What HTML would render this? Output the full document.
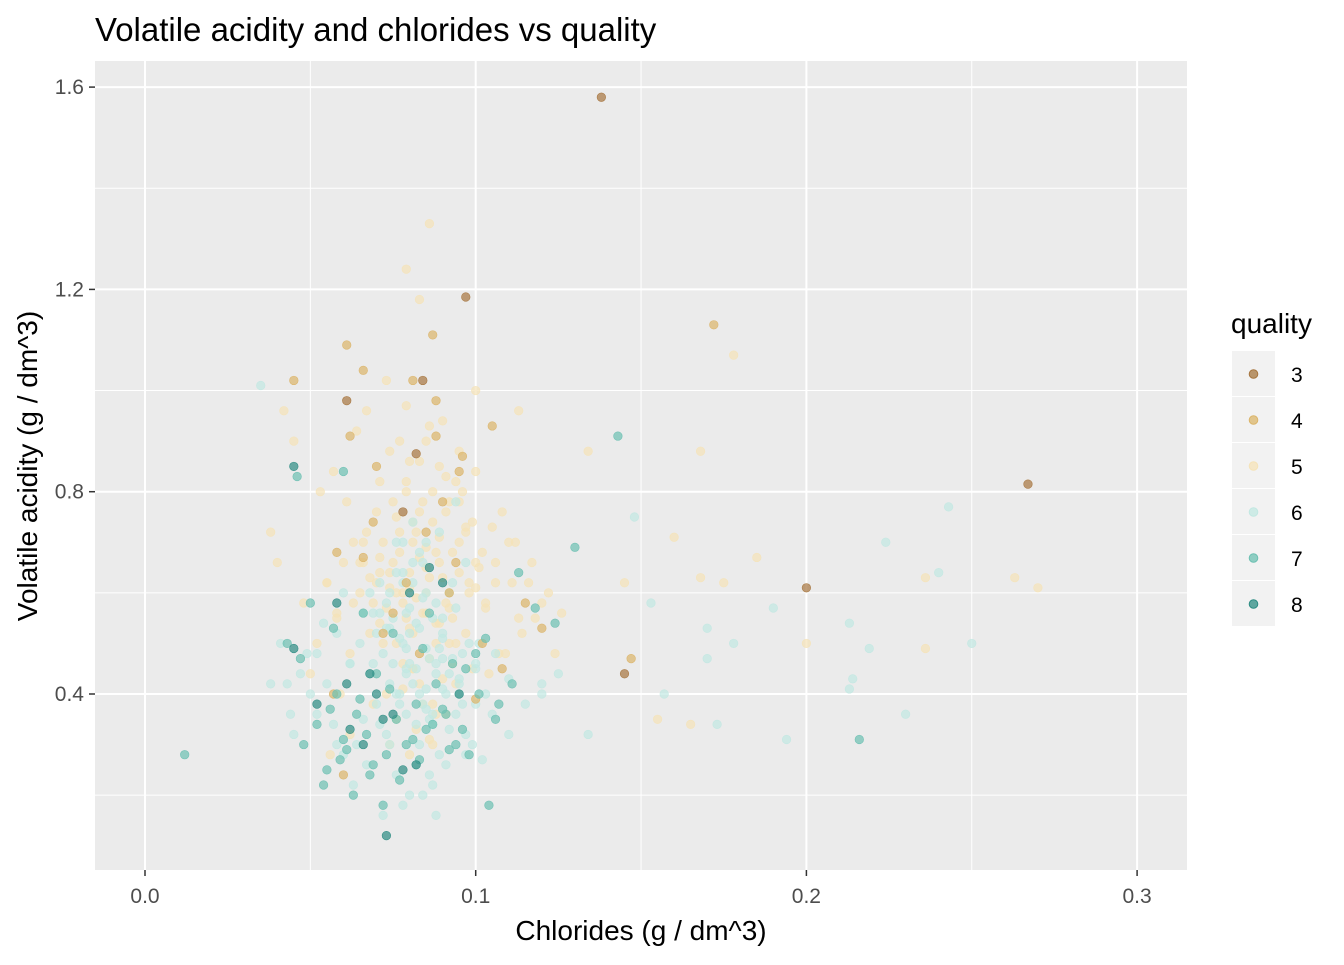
<!DOCTYPE html>
<html><head><meta charset="utf-8"><style>
body{margin:0;background:#fff;font-family:"Liberation Sans",Arial,sans-serif}
</style></head><body>
<svg id="chart" width="1344" height="960" xmlns="http://www.w3.org/2000/svg" font-family="Liberation Sans, Arial, sans-serif">
<rect width="1344" height="960" fill="#fff"/>
<text x="95" y="41" font-size="33" fill="#000">Volatile acidity and chlorides vs quality</text>
<rect x="95" y="61" width="1092" height="809" fill="#ebebeb"/>
<g id="grid"></g>
<g id="points"></g>
<g id="axes"></g>
<text x="641" y="940" font-size="28" text-anchor="middle">Chlorides (g / dm^3)</text>
<text transform="translate(37,466) rotate(-90)" font-size="28" text-anchor="middle">Volatile acidity (g / dm^3)</text>
<g id="legend">
<text x="1231" y="333" font-size="28">quality</text>
</g>
</svg>
<script>
const xTicks=[0,0.1,0.2,0.3];
const xTickLabels=["0.0","0.1","0.2","0.3"];
const yTicks=[0.4,0.8,1.2,1.6];
const yTickLabels=["0.4","0.8","1.2","1.6"];
const xMinor=[0.05,0.15,0.25];
const yMinor=[0.2,0.6,1.0,1.4];
const qualities=["3","4","5","6","7","8"];
const colors=["#a6753e","#dbb56a","#f5e3b8","#c2e8e2","#6cc0b2","#2c8c83"];
const q3x=[0.138,0.097,0.267,0.200,0.145,0.061,0.082,0.078,0.084];
const q3y=[1.58,1.185,0.815,0.61,0.44,0.98,0.875,0.76,1.02];
const q4x=[0.172,0.087,0.061,0.066,0.045,0.081,0.088,0.105,0.062,0.088,0.096,0.095,0.09,0.147,0.058,0.12,0.06,0.075,0.083,0.115,0.102,0.072,0.07,0.094,0.079,0.066,0.1,0.085,0.057,0.092,0.069,0.108];
const q4y=[1.13,1.11,1.09,1.04,1.02,1.02,0.98,0.93,0.91,0.91,0.87,0.84,0.78,0.47,0.68,0.53,0.24,0.56,0.48,0.58,0.5,0.52,0.85,0.66,0.62,0.67,0.39,0.72,0.4,0.6,0.74,0.45];
const q5x=[0.079,0.086,0.083,0.178,0.168,0.236,0.263,0.27,0.185,0.175,0.16,0.168,0.155,0.165,0.236,0.2,0.145,0.134,0.1,0.113,
0.07,0.072,0.075,0.078,0.08,0.082,0.085,0.088,0.09,0.093,0.095,0.098,0.1,0.103,0.106,0.11,0.113,0.116,0.12,0.068,
0.065,0.062,0.058,0.055,0.052,0.05,0.048,0.076,0.079,0.081,0.084,0.087,0.091,0.094,0.097,0.071,0.074,0.077,0.083,0.086,
0.089,0.092,0.096,0.099,0.102,0.105,0.108,0.112,0.117,0.122,0.126,0.064,0.067,0.073,0.079,0.085,0.09,0.095,0.1,0.081,
0.078,0.083,0.088,0.073,0.069,0.093,0.097,0.076,0.082,0.087,0.074,0.08,0.086,0.091,0.062,0.059,0.056,0.104,0.109,0.114,
0.045,0.042,0.04,0.038,0.053,0.057,0.061,0.066,0.071,0.076,0.081,0.084,0.089,0.094,0.071,0.078,0.085,0.092,0.1,0.107,
0.074,0.077,0.08,0.083,0.086,0.089,0.092,0.095,0.098,0.071,0.068,0.065,0.077,0.081,0.085,0.089,0.093,0.097,0.101,0.106,
0.073,0.076,0.079,0.082,0.085,0.088,0.091,0.075,0.079,0.083,0.087,0.091,0.095,0.07,0.067,0.063,0.06,0.072,0.081,0.09,
0.078,0.084,0.088,0.094,0.099,0.103,0.111,0.118,0.124,0.069,0.074,0.08,0.086,0.092,0.058,0.055,0.063,0.066,0.08,0.087];
const q5y=[1.24,1.33,1.18,1.07,0.88,0.63,0.63,0.61,0.67,0.62,0.71,0.63,0.35,0.34,0.49,0.5,0.62,0.88,1.0,0.96,
0.62,0.7,0.66,0.58,0.64,0.72,0.6,0.68,0.63,0.55,0.7,0.6,0.66,0.57,0.62,0.7,0.55,0.62,0.58,0.52,
0.6,0.48,0.56,0.62,0.5,0.44,0.58,0.75,0.8,0.7,0.78,0.74,0.76,0.82,0.72,0.82,0.88,0.9,0.86,0.93,
0.85,0.78,0.8,0.74,0.68,0.73,0.76,0.7,0.66,0.6,0.56,0.92,0.96,1.02,0.97,0.9,0.94,0.88,0.84,0.52,
0.46,0.42,0.5,0.4,0.38,0.46,0.52,0.35,0.33,0.38,0.3,0.28,0.31,0.36,0.32,0.4,0.28,0.44,0.48,0.52,
0.9,0.96,0.66,0.72,0.8,0.84,0.78,0.7,0.54,0.5,0.45,0.56,0.54,0.5,0.64,0.6,0.65,0.57,0.61,0.48,
0.64,0.68,0.61,0.67,0.63,0.66,0.6,0.64,0.62,0.67,0.63,0.66,0.72,0.74,0.69,0.71,0.68,0.73,0.65,0.66,
0.57,0.6,0.55,0.59,0.56,0.54,0.58,0.78,0.82,0.76,0.8,0.83,0.78,0.76,0.72,0.7,0.66,0.5,0.45,0.43,
0.41,0.38,0.36,0.42,0.45,0.58,0.62,0.55,0.48,0.58,0.61,0.53,0.47,0.5,0.55,0.62,0.58,0.66,0.86,0.3];
const q6x=[0.243,0.224,0.24,0.25,0.23,0.213,0.214,0.213,0.219,0.19,0.194,0.17,0.17,0.173,0.178,0.153,0.157,0.148,0.134,0.035,
0.07,0.072,0.075,0.078,0.08,0.082,0.085,0.088,0.09,0.093,0.095,0.098,0.1,0.103,0.106,0.11,0.115,0.12,0.068,0.065,
0.062,0.058,0.055,0.052,0.05,0.047,0.044,0.041,0.038,0.076,0.079,0.081,0.084,0.087,0.091,0.094,0.097,0.071,0.074,0.077,
0.083,0.086,0.089,0.092,0.096,0.099,0.102,0.073,0.079,0.085,0.09,0.081,0.078,0.083,0.088,0.074,0.069,0.093,0.097,0.076,
0.082,0.087,0.08,0.086,0.091,0.064,0.06,0.057,0.105,0.11,0.12,0.125,0.066,0.071,0.076,0.081,0.084,0.089,0.094,0.06,
0.054,0.049,0.043,0.069,0.074,0.079,0.085,0.09,0.095,0.1,0.072,0.078,0.084,0.088,0.067,0.063,0.058,0.045,0.052,0.097,
0.073,0.077,0.08,0.083,0.087,0.09,0.094,0.075,0.079,0.082,0.086,0.089,0.071,0.068,0.078,0.084,0.092,0.076,0.081,0.085,
0.074,0.079,0.083,0.088,0.07,0.066,0.092,0.096,0.101,0.08,0.077,0.085,0.09,0.073,0.082,0.087,0.095,0.1,0.078,0.062];
const q6y=[0.77,0.7,0.64,0.5,0.36,0.54,0.43,0.41,0.49,0.57,0.31,0.53,0.47,0.34,0.5,0.58,0.4,0.75,0.32,1.01,
0.52,0.48,0.55,0.5,0.46,0.54,0.49,0.44,0.52,0.47,0.42,0.5,0.45,0.4,0.48,0.43,0.38,0.42,0.44,0.5,
0.46,0.52,0.42,0.48,0.4,0.44,0.36,0.5,0.42,0.4,0.36,0.42,0.38,0.34,0.4,0.36,0.32,0.34,0.3,0.38,
0.3,0.35,0.28,0.33,0.38,0.3,0.27,0.58,0.56,0.6,0.55,0.62,0.64,0.68,0.58,0.6,0.56,0.62,0.66,0.24,
0.26,0.22,0.2,0.24,0.26,0.3,0.28,0.34,0.36,0.32,0.4,0.44,0.56,0.62,0.7,0.74,0.66,0.72,0.78,0.6,
0.54,0.48,0.42,0.46,0.53,0.45,0.41,0.47,0.43,0.38,0.16,0.18,0.2,0.16,0.26,0.22,0.3,0.32,0.36,0.28,
0.53,0.51,0.57,0.53,0.55,0.51,0.57,0.46,0.49,0.45,0.47,0.49,0.56,0.6,0.62,0.59,0.6,0.64,0.66,0.7,
0.42,0.44,0.4,0.46,0.38,0.35,0.44,0.48,0.5,0.52,0.4,0.37,0.41,0.32,0.34,0.36,0.4,0.46,0.7,0.46];
const q7x=[0.012,0.143,0.216,0.06,0.046,0.13,0.124,0.113,0.104,0.048,0.052,0.055,0.058,0.061,0.064,0.067,0.07,0.073,0.076,0.079,
0.082,0.085,0.088,0.091,0.094,0.097,0.1,0.103,0.107,0.111,0.118,0.05,0.054,0.059,0.063,0.068,0.072,0.077,0.083,0.087,
0.092,0.096,0.043,0.047,0.057,0.066,0.075,0.084,0.093,0.101,0.056,0.06,0.065,0.069,0.074,0.081,0.086,0.09,0.098,0.106];
const q7y=[0.28,0.91,0.31,0.84,0.83,0.69,0.54,0.64,0.18,0.3,0.34,0.25,0.4,0.29,0.36,0.32,0.44,0.28,0.35,0.3,
0.38,0.33,0.42,0.36,0.3,0.45,0.48,0.51,0.38,0.42,0.57,0.58,0.22,0.27,0.2,0.24,0.18,0.23,0.27,0.34,
0.29,0.33,0.5,0.47,0.53,0.56,0.52,0.49,0.46,0.4,0.37,0.31,0.39,0.26,0.41,0.31,0.56,0.37,0.28,0.35];
const q8x=[0.045,0.045,0.073,0.082,0.061,0.062,0.058,0.07,0.068,0.08,0.086,0.075,0.09,0.095,0.078,0.052,0.066,0.072];
const q8y=[0.85,0.49,0.12,0.26,0.42,0.33,0.58,0.4,0.44,0.6,0.65,0.36,0.62,0.4,0.25,0.38,0.3,0.35];
const seriesX=[q3x,q4x,q5x,q6x,q7x,q8x];
const seriesY=[q3y,q4y,q5y,q6y,q7y,q8y];

const NS="http://www.w3.org/2000/svg";
const sx=v=>145+v*3307;
const sy=v=>694-(v-0.4)*505.75;
function mk(tag,attrs,parent){const e=document.createElementNS(NS,tag);for(const k in attrs)e.setAttribute(k,attrs[k]);parent.appendChild(e);return e;}
const grid=document.getElementById('grid');
xMinor.forEach(v=>{const l=mk('line',{x1:sx(v),x2:sx(v),y1:61,y2:870,stroke:'#fff','stroke-width':1},grid);

});
yMinor.forEach(v=>{const l=mk('line',{x1:95,x2:1187,y1:sy(v),y2:sy(v),stroke:'#fff','stroke-width':1},grid);

});
const axes=document.getElementById('axes');
xTicks.forEach((v,i)=>{const l=mk('line',{x1:sx(v),x2:sx(v),y1:61,y2:870,stroke:'#fff','stroke-width':2},grid);


const t=mk('line',{x1:sx(v),x2:sx(v),y1:870,y2:876,stroke:'#333','stroke-width':1.5},axes);


const tx=mk('text',{x:sx(v),y:903,'font-size':21,'text-anchor':'middle',fill:'#4d4d4d'},axes);tx.textContent=xTickLabels[i];

});
yTicks.forEach((v,i)=>{const l=mk('line',{x1:95,x2:1187,y1:sy(v),y2:sy(v),stroke:'#fff','stroke-width':2},grid);


const t=mk('line',{x1:89,x2:95,y1:sy(v),y2:sy(v),stroke:'#333','stroke-width':1.5},axes);


const tx=mk('text',{x:84,y:sy(v)+7,'font-size':21,'text-anchor':'end',fill:'#4d4d4d'},axes);tx.textContent=yTickLabels[i];

});
const pts=document.getElementById('points');
const order=[2,3,1,4,5,0];
order.forEach(s=>{seriesX[s].forEach((xv,j)=>{const c=mk('circle',{cx:sx(xv),cy:sy(seriesY[s][j]),r:4.3,fill:colors[s],'fill-opacity':0.7,stroke:colors[s],'stroke-opacity':0.9,'stroke-width':0.6},pts);

});});
const leg=document.getElementById('legend');
qualities.forEach((q,i)=>{const y=351+i*46;
const k=mk('rect',{x:1232,y:y,width:43,height:45,fill:'#f2f2f2'},leg);


const c=mk('circle',{cx:1253.5,cy:y+23,r:4.3,fill:colors[i],'fill-opacity':0.75,stroke:colors[i]},leg);


const t=mk('text',{x:1291,y:y+31,'font-size':21,fill:'#000'},leg);t.textContent=q;

});
</script>
</body></html>
